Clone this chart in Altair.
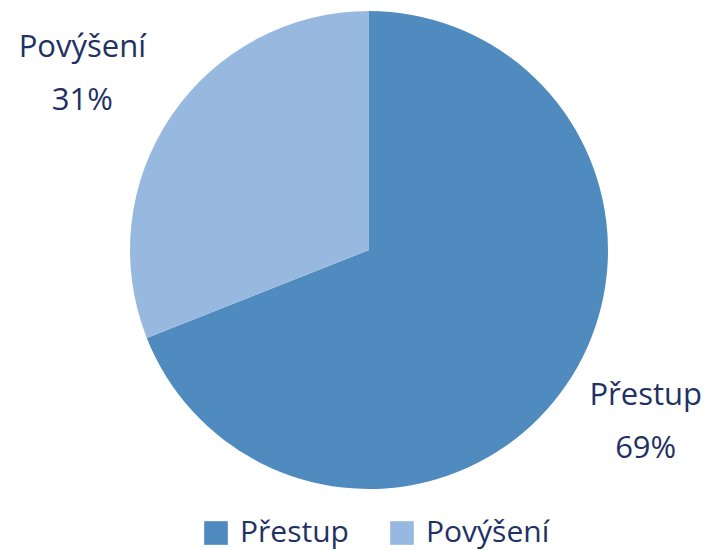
import altair as alt
import pandas as pd

categories = ["Přestup", "Povýšení"]
values = [69, 31]
labels = ["Přestup\n69%", "Povýšení\n31%"]
colors = ["#4F8BBE", "#98B9DF"]

df = pd.DataFrame({"cat": categories, "val": values, "label": labels, "order": [0, 1]})

FONT = "Open Sans"
TXT = "#1F3264"
FS = 31

base = alt.Chart(df).encode(
    theta=alt.Theta("val:Q", stack=True),
    order=alt.Order("order:Q"),
    x=alt.value(361),
    y=alt.value(242),
)

pie = base.mark_arc(outerRadius=239, stroke=None).encode(
    color=alt.Color(
        "cat:N",
        scale=alt.Scale(domain=categories, range=colors),
        sort=categories,
        legend=alt.Legend(
            title=None,
            orient="none",
            legendX=193,
            legendY=510,
            direction="horizontal",
            symbolType="square",
            symbolSize=560,
            symbolStrokeWidth=0,
            labelFontSize=30,
            labelFont=FONT,
            labelColor=TXT,
            columnPadding=38,
            symbolOffset=0,
            labelOffset=9,
            labelLimit=300,
        ),
    )
)

def label_layer(cat, dx, dy):
    return base.mark_text(
        radius=320,
        fontSize=FS,
        font=FONT,
        color=TXT,
        lineBreak="\n",
        lineHeight=53,
        align="center",
        baseline="middle",
        dx=dx,
        dy=dy,
    ).encode(text="label:N", opacity=alt.condition(alt.datum.cat == cat, alt.value(1), alt.value(0)))

text1 = label_layer("Přestup", 12, -34)
text2 = label_layer("Povýšení", -22, -22)

chart = (pie + text1 + text2).properties(
    width=693, height=542, autosize=alt.AutoSizeParams(type="none"), padding=0
).configure_view(stroke=None)

chart.save("out.html", embed_options={"renderer": "svg", "actions": False})
